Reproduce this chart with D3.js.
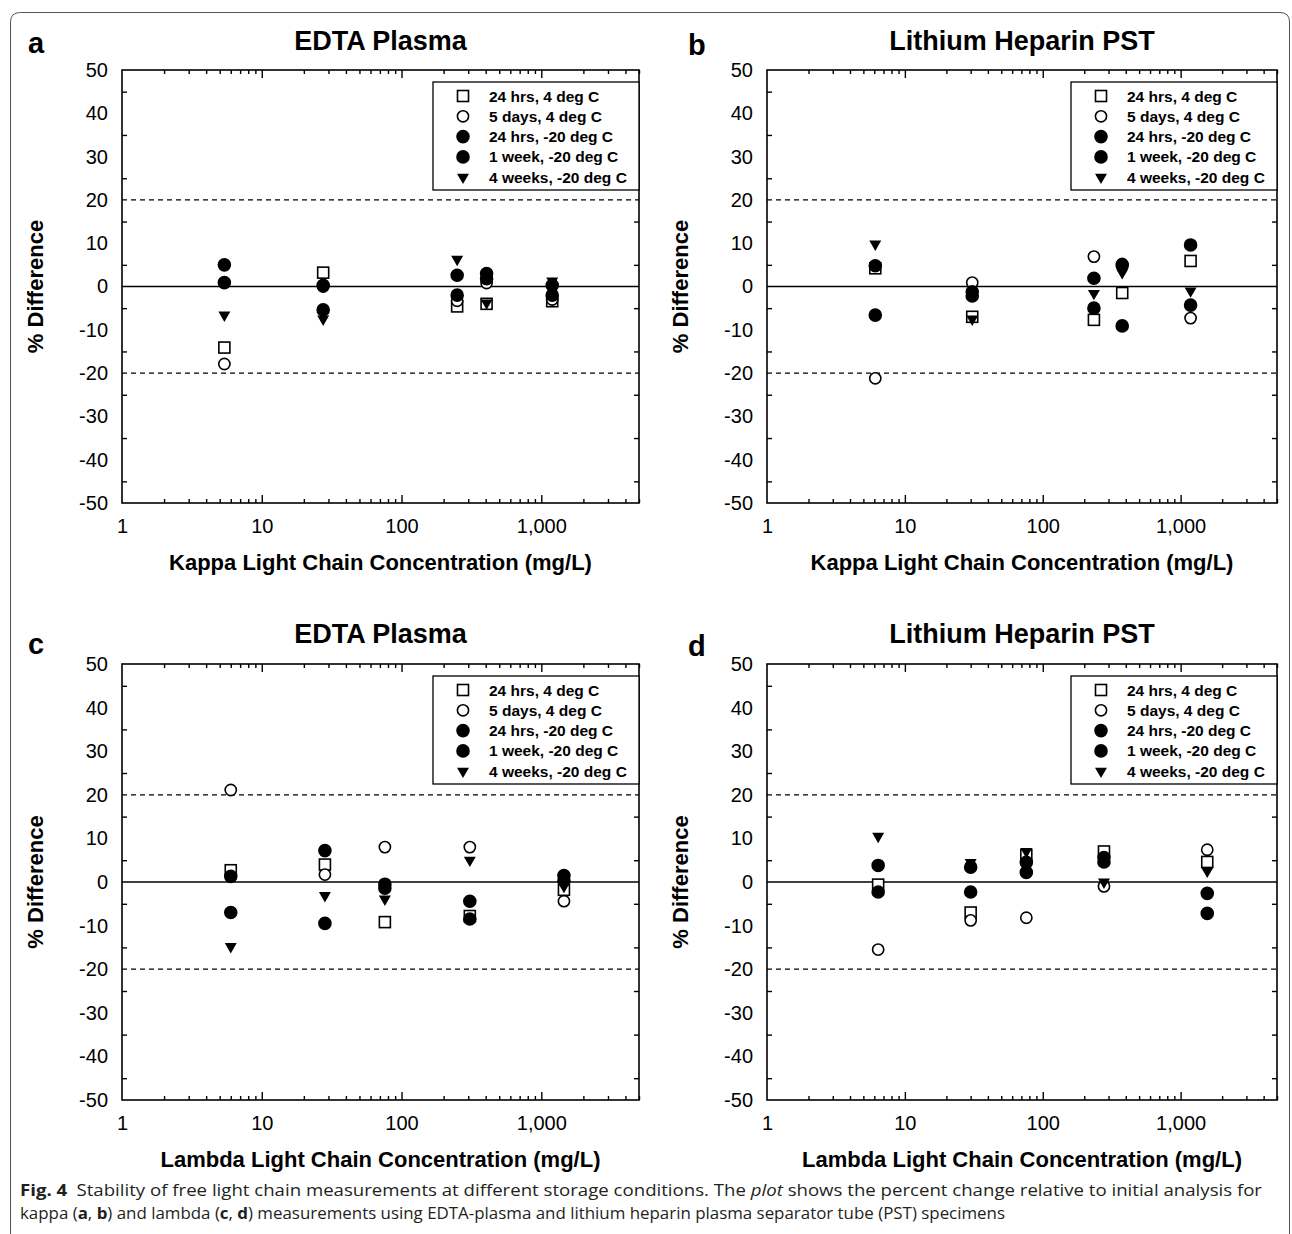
<!DOCTYPE html>
<html>
<head>
<meta charset="utf-8">
<script src="https://cdn.jsdelivr.net/npm/d3@7"></script>
<style>
  body { margin: 0; background: #fff; }
  svg text { font-family: "Liberation Sans", Arial, sans-serif; fill: #000; }
  .cap text, text.cap { font-family: "Open Sans", "Noto Sans", sans-serif; fill: #231f20; }
</style>
</head>
<body>
<svg id="fig" width="1292" height="1234"></svg>
<script>
// legend entries, in drawing order
const seriesNames = ["24 hrs, 4 deg C", "5 days, 4 deg C", "24 hrs, -20 deg C", "1 week, -20 deg C", "4 weeks, -20 deg C"];
const seriesShapes = ["square", "circle", "dot", "dot", "tri"];

// a: kappa, EDTA plasma
const kappaEdtaX = [5.4, 27.5, 250, 406, 1197];
const kappaEdtaY = [
  [-14.1, 3.2, -4.6, -4.0, -3.4],
  [-17.9, 0.0, -3.3, 0.8, -3.0],
  [5.0, 0.3, 2.6, 3.0, 0.3],
  [0.9, -5.4, -2.0, 1.8, -2.0],
  [-6.6, -7.5, 6.3, -3.8, 1.3]
];
// b: kappa, lithium heparin PST
const kappaPstX = [6.1, 30.8, 235, 377, 1181];
const kappaPstY = [
  [4.2, -7.0, -7.7, -1.5, 5.9],
  [-21.2, 0.9, 6.9, 5.2, -7.3],
  [4.8, -1.2, 1.9, 4.9, 9.6],
  [-6.6, -2.2, -5.0, -9.1, -4.3],
  [9.8, -7.5, -1.6, 3.2, -1.0]
];
// c: lambda, EDTA plasma
const lambdaEdtaX = [6.0, 28.3, 76, 308, 1452];
const lambdaEdtaY = [
  [2.7, 4.0, -9.2, -7.8, -1.8],
  [21.1, 1.7, 8.0, 8.0, -4.4],
  [1.3, 7.2, -0.5, -4.4, 1.5],
  [-7.0, -9.5, -1.4, -8.5, 0.3],
  [-14.8, -3.1, -3.9, 5.0, -1.0]
];
// d: lambda, lithium heparin PST
const lambdaPstX = [6.4, 30, 76, 278, 1560];
const lambdaPstY = [
  [-0.6, -7.0, 6.2, 7.0, 4.6],
  [-15.5, -8.8, -8.2, -1.0, 7.4],
  [3.8, 3.4, 4.5, 5.6, -2.6],
  [-2.3, -2.3, 2.2, 4.6, -7.2],
  [10.5, 4.5, 7.0, 0.0, 2.5]
];

const xDomain = [1, 5000];
const xMajor = [1, 10, 100, 1000];
const yDomain = [-50, 50];
const yLabels = d3.range(-50, 51, 10);
const yMinor = d3.range(-45, 50, 10);
const limitLines = [-20, 20];

const svg = d3.select('#fig');

// outer rounded border
svg.append('path')
  .attr('d', 'M10.5,1234 L10.5,22 Q10.5,12.5 20.5,12.5 L1280,12.5 Q1289.5,12.5 1289.5,22 L1289.5,1234')
  .attr('fill', 'none').attr('stroke', '#555').attr('stroke-width', 1);

function xMinorTicks() {
  let t = [];
  for (let p = 0; p < 4; p++) for (let k = 2; k <= 9; k++) {
    let v = k * Math.pow(10, p);
    if (v <= 5000) t.push(v);
  }
  return t;
}

function drawPanel(o) {
  let x = d3.scaleLog().domain(xDomain).range([o.x0, o.x1]);
  let y = d3.scaleLinear().domain(yDomain).range([o.yb, o.yt]);
  let g = svg.append('g');

  // limit lines and zero line
  g.selectAll('line.lim').data(limitLines).enter().append('line')
    .attr('x1', o.x0).attr('x2', o.x1)
    .attr('y1', d => y(d)).attr('y2', d => y(d))
    .attr('stroke', '#000').attr('stroke-width', 1.3).attr('stroke-dasharray', '5,4');
  g.append('line')
    .attr('x1', o.x0).attr('x2', o.x1).attr('y1', y(0)).attr('y2', y(0))
    .attr('stroke', '#000').attr('stroke-width', 1.6);

  // ticks, all pointing inside
  let tickStyle = sel => {
    sel.select('.domain').remove();
    sel.selectAll('line').attr('stroke', '#000').attr('stroke-width', 1.4);
    sel.selectAll('text').remove();
  };
  g.append('g').attr('transform', `translate(0,${o.yb})`)
    .call(d3.axisTop(x).tickValues(xMajor.slice(1)).tickSize(8)).call(tickStyle);
  g.append('g').attr('transform', `translate(0,${o.yb})`)
    .call(d3.axisTop(x).tickValues(xMinorTicks()).tickSize(4)).call(tickStyle);
  g.append('g').attr('transform', `translate(0,${o.yt})`)
    .call(d3.axisBottom(x).tickValues(xMajor.slice(1)).tickSize(8)).call(tickStyle);
  g.append('g').attr('transform', `translate(0,${o.yt})`)
    .call(d3.axisBottom(x).tickValues(xMinorTicks()).tickSize(4)).call(tickStyle);
  g.append('g').attr('transform', `translate(${o.x0},0)`)
    .call(d3.axisRight(y).tickValues(yMinor).tickSize(5)).call(tickStyle);
  g.append('g').attr('transform', `translate(${o.x1},0)`)
    .call(d3.axisLeft(y).tickValues(yMinor).tickSize(5)).call(tickStyle);

  // tick labels
  let xl = g.append('g').attr('transform', `translate(0,${o.yb})`)
    .call(d3.axisBottom(x).tickValues(xMajor).tickSize(0).tickPadding(16).tickFormat(d3.format(',')));
  xl.select('.domain').remove();
  xl.selectAll('text').style('font-size', '20px').style('font-family', '"Liberation Sans", Arial, sans-serif');
  let yl = g.append('g').attr('transform', `translate(${o.x0},0)`)
    .call(d3.axisLeft(y).tickValues(yLabels).tickSize(0).tickPadding(14).tickFormat(d => String(d)));
  yl.select('.domain').remove();
  yl.selectAll('text').style('font-size', '20px').style('font-family', '"Liberation Sans", Arial, sans-serif');

  // frame
  g.append('rect').attr('x', o.x0).attr('y', o.yt)
    .attr('width', o.x1 - o.x0).attr('height', o.yb - o.yt)
    .attr('fill', 'none').attr('stroke', '#000').attr('stroke-width', 1.6);

  // points
  seriesShapes.forEach((shape, s) => {
    let pts = o.xs.map((v, i) => ({ x: v, y: o.ys[s][i] }));
    drawMarks(g, pts, shape, x, y);
  });

  // legend
  let lx = o.x1 - 206, ly = o.yt + 12;
  g.append('rect').attr('x', lx).attr('y', ly).attr('width', 206).attr('height', 108)
    .attr('fill', '#fff').attr('stroke', '#000').attr('stroke-width', 1.3);
  seriesNames.forEach((name, s) => {
    let cy = ly + 14 + s * 20.3;
    drawMarks(g, [{ px: lx + 30, py: cy }], seriesShapes[s]);
    g.append('text').attr('x', lx + 56).attr('y', cy + 5.5)
      .style('font-size', '15.5px').style('font-weight', 'bold').text(name);
  });

  // titles
  g.append('text').attr('x', (o.x0 + o.x1) / 2).attr('y', o.titleY)
    .attr('text-anchor', 'middle').style('font-size', '27px').style('font-weight', 'bold').text(o.title);
  g.append('text').attr('x', o.letterX).attr('y', o.letterY)
    .style('font-size', '29px').style('font-weight', 'bold').text(o.letter);
  g.append('text').attr('x', (o.x0 + o.x1) / 2).attr('y', o.yb + 67)
    .attr('text-anchor', 'middle').style('font-size', '22px').style('font-weight', 'bold').text(o.xLabel);
  g.append('text')
    .attr('transform', `translate(${o.x0 - 79},${(o.yt + o.yb) / 2}) rotate(-90)`)
    .attr('text-anchor', 'middle').style('font-size', '22px').style('font-weight', 'bold').text('% Difference');
}

function drawMarks(g, pts, shape, x, y) {
  let px = d => d.px !== undefined ? d.px : x(d.x);
  let py = d => d.py !== undefined ? d.py : y(d.y);
  if (shape === 'square') {
    g.selectAll(null).data(pts).enter().append('rect')
      .attr('x', d => px(d) - 5.5).attr('y', d => py(d) - 5.5)
      .attr('width', 11).attr('height', 11)
      .attr('fill', '#fff').attr('stroke', '#000').attr('stroke-width', 1.6);
  } else if (shape === 'circle' || shape === 'dot') {
    g.selectAll(null).data(pts).enter().append('circle')
      .attr('cx', px).attr('cy', py).attr('r', shape === 'dot' ? 6 : 5.6)
      .attr('fill', shape === 'dot' ? '#000' : '#fff')
      .attr('stroke', '#000').attr('stroke-width', 1.6);
  } else {
    g.selectAll(null).data(pts).enter().append('path')
      .attr('d', d3.symbol(d3.symbolTriangle, 62))
      .attr('transform', d => `translate(${px(d)},${py(d)}) rotate(180)`)
      .attr('fill', '#000');
  }
}

drawPanel({ x0: 122, x1: 639, yt: 70, yb: 503, xs: kappaEdtaX, ys: kappaEdtaY,
  title: 'EDTA Plasma', letter: 'a', letterX: 28, letterY: 53, titleY: 50,
  xLabel: 'Kappa Light Chain Concentration (mg/L)' });
drawPanel({ x0: 767, x1: 1277, yt: 70, yb: 503, xs: kappaPstX, ys: kappaPstY,
  title: 'Lithium Heparin PST', letter: 'b', letterX: 688, letterY: 55, titleY: 50,
  xLabel: 'Kappa Light Chain Concentration (mg/L)' });
drawPanel({ x0: 122, x1: 639, yt: 664, yb: 1100, xs: lambdaEdtaX, ys: lambdaEdtaY,
  title: 'EDTA Plasma', letter: 'c', letterX: 28, letterY: 654, titleY: 643,
  xLabel: 'Lambda Light Chain Concentration (mg/L)' });
drawPanel({ x0: 767, x1: 1277, yt: 664, yb: 1100, xs: lambdaPstX, ys: lambdaPstY,
  title: 'Lithium Heparin PST', letter: 'd', letterX: 688, letterY: 656, titleY: 643,
  xLabel: 'Lambda Light Chain Concentration (mg/L)' });

// caption
let c1 = svg.append('text').attr('class', 'cap').attr('x', 20).attr('y', 1196)
  .attr('textLength', 1242).attr('lengthAdjust', 'spacingAndGlyphs').style('font-size', '16px');
c1.append('tspan').style('font-weight', 'bold').text('Fig. 4');
c1.append('tspan').text('\u2002Stability of free light chain measurements at different storage conditions. The ');
c1.append('tspan').style('font-style', 'italic').text('plot');
c1.append('tspan').text(' shows the percent change relative to initial analysis for');

let c2 = svg.append('text').attr('class', 'cap').attr('x', 20).attr('y', 1219)
  .attr('textLength', 985).attr('lengthAdjust', 'spacingAndGlyphs').style('font-size', '16px');
c2.append('tspan').text('kappa (');
c2.append('tspan').style('font-weight', 'bold').text('a');
c2.append('tspan').text(', ');
c2.append('tspan').style('font-weight', 'bold').text('b');
c2.append('tspan').text(') and lambda (');
c2.append('tspan').style('font-weight', 'bold').text('c');
c2.append('tspan').text(', ');
c2.append('tspan').style('font-weight', 'bold').text('d');
c2.append('tspan').text(') measurements using EDTA-plasma and lithium heparin plasma separator tube (PST) specimens');
</script>
</body>
</html>
